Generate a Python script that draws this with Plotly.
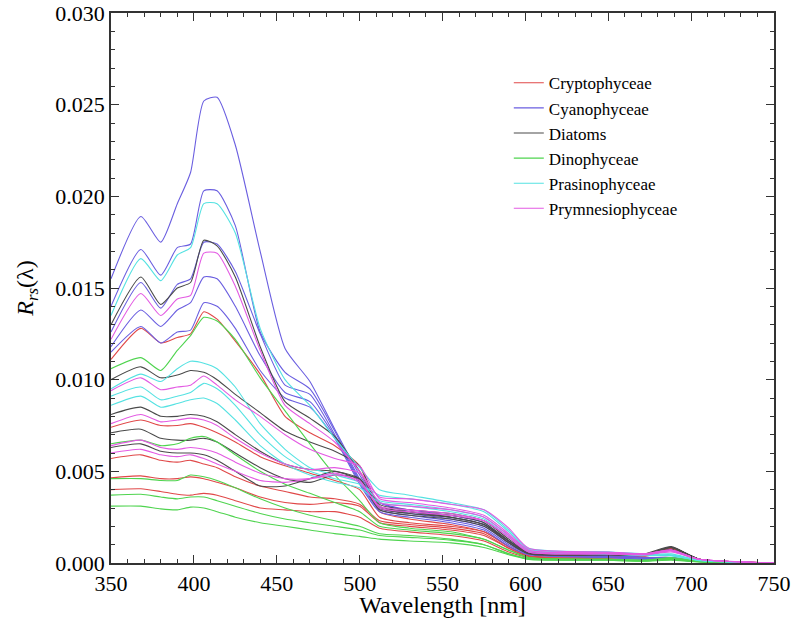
import plotly.graph_objects as go

# Wavelengths (nm) at which each spectrum was read
wavelength = [350, 368, 380, 390, 398, 406, 414, 425, 440, 455, 470, 485,
              500, 512, 530, 555, 575, 590, 602, 650, 672, 688, 705, 750]

# Rrs values in units of 1e-3 sr^-1, one list per spectrum
cryptophyceae = [
    [11.1, 12.8, 12.0, 12.3, 12.5, 13.7, 13.3, 12.1, 10.3, 8.0, 7.1, 6.4, 5.3, 2.8, 2.4, 2.1, 1.7, 0.9, 0.4, 0.35, 0.4, 0.8, 0.2, 0],
    [7.4, 7.8, 7.5, 7.5, 7.6, 7.4, 7.1, 6.6, 5.8, 5.3, 4.9, 4.5, 4.0, 2.5, 2.2, 2.0, 1.7, 0.9, 0.4, 0.35, 0.4, 0.8, 0.2, 0],
    [5.7, 5.9, 5.6, 5.5, 5.6, 5.4, 5.2, 4.7, 4.2, 3.9, 3.6, 3.5, 3.2, 2.3, 2.1, 1.9, 1.6, 0.8, 0.35, 0.3, 0.4, 0.8, 0.2, 0],
    [4.65, 4.75, 4.6, 4.6, 4.7, 4.6, 4.4, 4.1, 3.6, 3.3, 3.2, 3.3, 3.1, 2.2, 2.0, 1.8, 1.5, 0.8, 0.35, 0.3, 0.4, 0.75, 0.2, 0],
    [4.0, 4.05, 3.9, 3.75, 3.7, 3.8, 3.7, 3.4, 3.0, 2.9, 2.8, 2.8, 2.5, 1.9, 1.7, 1.5, 1.2, 0.6, 0.3, 0.25, 0.35, 0.7, 0.15, 0],
]
cyanophyceae = [
    [15.5, 18.9, 17.5, 19.6, 21.3, 25.2, 25.4, 22.8, 17.0, 11.7, 9.9, 7.3, 4.8, 3.3, 2.9, 2.6, 2.2, 1.2, 0.6, 0.45, 0.3, 0.3, 0.12, 0],
    [14.0, 17.1, 15.7, 17.2, 17.4, 20.3, 20.3, 18.4, 12.6, 10.4, 9.5, 7.2, 4.6, 3.3, 2.8, 2.5, 2.1, 1.2, 0.6, 0.4, 0.3, 0.3, 0.1, 0],
    [12.6, 15.3, 13.9, 15.2, 15.5, 17.5, 17.4, 15.9, 12.5, 9.7, 9.2, 7.0, 4.5, 3.0, 2.7, 2.4, 2.0, 1.1, 0.5, 0.35, 0.25, 0.25, 0.1, 0],
    [11.8, 13.8, 12.9, 13.8, 14.2, 15.6, 15.5, 14.0, 11.3, 9.3, 8.8, 6.9, 4.4, 2.9, 2.6, 2.3, 1.9, 1.0, 0.5, 0.3, 0.2, 0.2, 0.08, 0],
    [11.5, 12.9, 12.0, 12.6, 12.7, 14.2, 14.0, 12.8, 10.5, 9.0, 8.5, 6.8, 4.3, 2.8, 2.5, 2.2, 1.8, 0.9, 0.45, 0.3, 0.2, 0.2, 0.08, 0],
]
diatoms = [
    [13.0, 15.6, 14.1, 15.0, 15.3, 17.6, 17.3, 15.6, 11.8, 8.8, 7.9, 6.9, 5.0, 3.2, 2.9, 2.7, 2.3, 1.3, 0.6, 0.5, 0.45, 0.75, 0.2, 0],
    [10.0, 10.7, 10.1, 10.25, 10.5, 10.4, 10.0, 9.2, 8.2, 7.2, 6.6, 6.1, 5.3, 3.1, 2.8, 2.6, 2.2, 1.2, 0.55, 0.5, 0.5, 0.9, 0.2, 0],
    [8.1, 8.5, 8.0, 8.0, 8.1, 8.0, 7.7, 7.0, 6.1, 5.4, 5.1, 5.0, 4.6, 3.0, 2.8, 2.5, 2.1, 1.2, 0.55, 0.45, 0.45, 0.85, 0.2, 0],
    [7.1, 7.3, 6.8, 6.7, 6.7, 6.8, 6.6, 6.0, 5.2, 4.6, 4.4, 4.8, 4.6, 3.0, 2.7, 2.5, 2.1, 1.1, 0.5, 0.45, 0.45, 0.85, 0.2, 0],
    [6.3, 6.5, 6.1, 6.0, 6.0, 5.9, 5.6, 5.0, 4.2, 4.2, 4.6, 5.0, 4.5, 2.9, 2.6, 2.4, 2.0, 1.1, 0.5, 0.45, 0.45, 0.85, 0.2, 0],
]
dinophyceae = [
    [10.6, 11.2, 10.5, 11.6, 12.4, 13.4, 13.2, 12.2, 10.1, 8.3, 6.5, 4.8, 3.4, 2.2, 1.9, 1.7, 1.3, 0.7, 0.3, 0.2, 0.15, 0.25, 0.1, 0],
    [6.5, 6.7, 6.4, 6.5, 6.8, 6.9, 6.6, 5.9, 5.0, 4.3, 3.8, 3.3, 2.8, 2.0, 1.8, 1.6, 1.3, 0.7, 0.3, 0.2, 0.15, 0.3, 0.1, 0],
    [4.6, 4.6, 4.5, 4.5, 4.8, 4.7, 4.5, 4.1, 3.5, 3.0, 2.6, 2.3, 2.0, 1.6, 1.5, 1.3, 1.0, 0.5, 0.25, 0.2, 0.15, 0.2, 0.08, 0],
    [3.7, 3.75, 3.6, 3.5, 3.6, 3.6, 3.4, 3.1, 2.7, 2.4, 2.2, 2.0, 1.8, 1.5, 1.4, 1.25, 1.0, 0.5, 0.2, 0.15, 0.1, 0.2, 0.08, 0],
    [3.1, 3.1, 2.95, 2.9, 3.05, 3.0, 2.8, 2.5, 2.2, 2.0, 1.8, 1.6, 1.45, 1.3, 1.2, 1.1, 0.85, 0.45, 0.2, 0.15, 0.1, 0.15, 0.05, 0],
]
prasinophyceae = [
    [13.5, 16.6, 15.4, 16.8, 17.2, 19.6, 19.6, 18.0, 12.8, 10.0, 8.6, 6.8, 5.2, 4.0, 3.7, 3.3, 2.9, 1.8, 0.8, 0.6, 0.45, 0.4, 0.15, 0],
    [9.5, 10.3, 9.9, 10.6, 11.0, 10.9, 10.6, 9.6, 7.6, 6.2, 5.2, 4.8, 4.4, 3.4, 3.2, 2.9, 2.5, 1.5, 0.7, 0.5, 0.45, 0.5, 0.15, 0],
    [9.1, 9.6, 8.9, 9.1, 9.3, 9.8, 9.5, 8.6, 7.0, 5.8, 5.0, 4.6, 4.3, 3.7, 3.5, 3.2, 2.8, 1.7, 0.75, 0.6, 0.5, 0.45, 0.15, 0],
    [8.6, 9.1, 8.5, 8.7, 8.9, 9.0, 8.7, 7.8, 6.4, 5.4, 4.8, 4.4, 4.1, 3.3, 3.1, 2.8, 2.4, 1.4, 0.65, 0.5, 0.4, 0.4, 0.12, 0],
]
prymnesiophyceae = [
    [12.2, 14.7, 13.5, 14.4, 14.6, 16.9, 16.9, 15.1, 11.6, 8.6, 7.6, 6.6, 5.0, 3.6, 3.5, 3.2, 2.9, 1.9, 0.8, 0.6, 0.5, 0.7, 0.2, 0],
    [9.4, 10.1, 9.45, 9.6, 9.7, 10.2, 9.7, 8.9, 8.0, 7.0, 6.2, 5.7, 5.3, 3.5, 3.3, 3.0, 2.6, 1.6, 0.7, 0.55, 0.5, 0.7, 0.2, 0],
    [7.6, 8.1, 7.7, 7.8, 7.9, 7.8, 7.5, 6.8, 6.0, 5.4, 5.1, 5.2, 4.9, 3.3, 3.1, 2.9, 2.5, 1.5, 0.7, 0.55, 0.5, 0.7, 0.2, 0],
    [6.4, 6.7, 6.3, 6.2, 6.3, 6.2, 6.0, 5.5, 4.9, 4.6, 4.6, 4.8, 4.5, 3.0, 2.8, 2.6, 2.3, 1.4, 0.6, 0.5, 0.45, 0.65, 0.2, 0],
    [6.0, 6.2, 5.9, 5.8, 5.9, 5.7, 5.4, 5.0, 4.5, 4.4, 4.6, 4.9, 4.4, 3.1, 2.9, 2.7, 2.3, 1.4, 0.6, 0.5, 0.45, 0.6, 0.2, 0],
]

groups = [
    ("Cryptophyceae", cryptophyceae, "#e04848"),
    ("Cyanophyceae", cyanophyceae, "#6a5ee0"),
    ("Diatoms", diatoms, "#4a4a4a"),
    ("Dinophyceae", dinophyceae, "#4fd44f"),
    ("Prasinophyceae", prasinophyceae, "#55e2e2"),
    ("Prymnesiophyceae", prymnesiophyceae, "#e35ae3"),
]

x_ticks = [350, 400, 450, 500, 550, 600, 650, 700, 750]
y_ticks = [0.000, 0.005, 0.010, 0.015, 0.020, 0.025, 0.030]

fig = go.Figure()
for name, spectra, color in groups:
    for i, s in enumerate(spectra):
        fig.add_trace(go.Scatter(
            x=wavelength, y=[v / 1000 for v in s], mode="lines",
            line=dict(color=color, width=1.1, shape="spline", smoothing=0.6),
            name=name, legendgroup=name, showlegend=(i == 0),
        ))

axis_common = dict(
    showline=True, linecolor="#333333", linewidth=1.5, mirror="ticks",
    ticks="inside", ticklen=8, tickwidth=1.2, tickcolor="#333333",
    showgrid=False, zeroline=False, automargin=False, ticklabeloverflow="allow",
    tickfont=dict(family="Liberation Serif", size=22, color="black"),
)

fig.update_xaxes(
    range=[350, 750], tickvals=x_ticks,
    minor=dict(dtick=10, ticks="inside", ticklen=4, tickcolor="#333333", showgrid=False),
    title=dict(text="Wavelength [nm]", font=dict(family="Liberation Serif", size=24, color="black")),
    **axis_common,
)
fig.update_yaxes(
    range=[0, 0.030], tickvals=y_ticks, tickformat=".3f",
    minor=dict(dtick=0.001, ticks="inside", ticklen=4, tickcolor="#333333", showgrid=False),
    title=dict(text="<i>R</i><sub><i>rs</i></sub>(λ)", font=dict(family="Liberation Serif", size=24, color="black")),
    **axis_common,
)

fig.update_layout(
    width=791, height=618,
    margin=dict(l=111, r=17, t=13, b=55),
    paper_bgcolor="white", plot_bgcolor="white",
    legend=dict(x=0.6, y=0.905, xanchor="left", yanchor="top",
                bgcolor="rgba(0,0,0,0)", borderwidth=0,
                font=dict(family="Liberation Serif", size=17, color="black"),
                tracegroupgap=0),
    showlegend=True,
)

# Remove the page's default body margin so the figure sits at the window corner
fig.write_html("out.html", config={"displayModeBar": False},
               post_script="document.body.style.margin='0';")
